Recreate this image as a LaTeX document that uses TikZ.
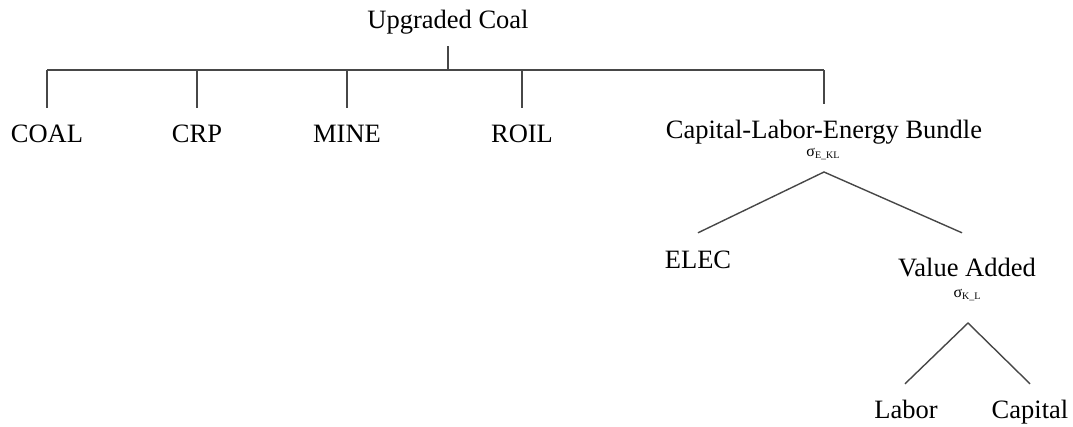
\documentclass[tikz,border=0pt]{standalone}
\usepackage{fontspec}
\setmainfont{Liberation Serif}
\tikzset{
  lab/.style={font=\fontsize{26.5}{30}\selectfont, inner sep=0pt, text height=18pt, text depth=6pt, anchor=base},
  sig/.style={font=\fontsize{16}{16}\selectfont, inner sep=0pt, anchor=center},
  conn/.style={draw=black!72, line width=1.4pt},
}
\newcommand{\sigsub}[1]{σ\raisebox{-2.5pt}{\fontsize{10}{10}\selectfont #1}}
\begin{document}
\begin{tikzpicture}[x=1pt,y=1pt]
\useasboundingbox (0,0) rectangle (1073,-426);
% labels
\node[lab] (top) at (448,-28) {Upgraded Coal};
\node[lab] (coal) at (47,-142) {COAL};
\node[lab] (crp) at (197,-142) {CRP};
\node[lab] (mine) at (347,-142) {MINE};
\node[lab] (roil) at (522,-142) {ROIL};
\node[lab] (bundle) at (824,-138) {Capital-Labor-Energy Bundle};
\node[sig] (s1) at (823,-154) {\sigsub{E\_KL}};
\node[lab] (elec) at (698,-268) {ELEC};
\node[lab] (va) at (967,-276) {Value Added};
\node[sig] (s2) at (967,-295) {\sigsub{K\_L}};
\node[lab] (labor) at (906,-418) {Labor};
\node[lab] (capital) at (1030,-418) {Capital};
% junctions
\coordinate (bar) at (448,-70);
\coordinate (apex1) at (824,-172);
\coordinate (apex2) at (968,-323);
% top tree
\draw[conn] ([yshift=-12pt]top.south) -- (bar);
\draw[conn] (coal.north |- bar) -- (bundle.north |- bar);
\foreach \n in {coal,crp,mine,roil,bundle}
  \draw[conn] (\n.north |- bar) -- ([yshift=16pt]\n.north);
% bundle subtree
\draw[conn] ([yshift=17pt]elec.north) -- (apex1) -- ([xshift=-5pt,yshift=25pt]va.north);
% value added subtree
\draw[conn] ([xshift=-1pt,yshift=16pt]labor.north) -- (apex2) -- ([yshift=16pt]capital.north);
\end{tikzpicture}
\end{document}
